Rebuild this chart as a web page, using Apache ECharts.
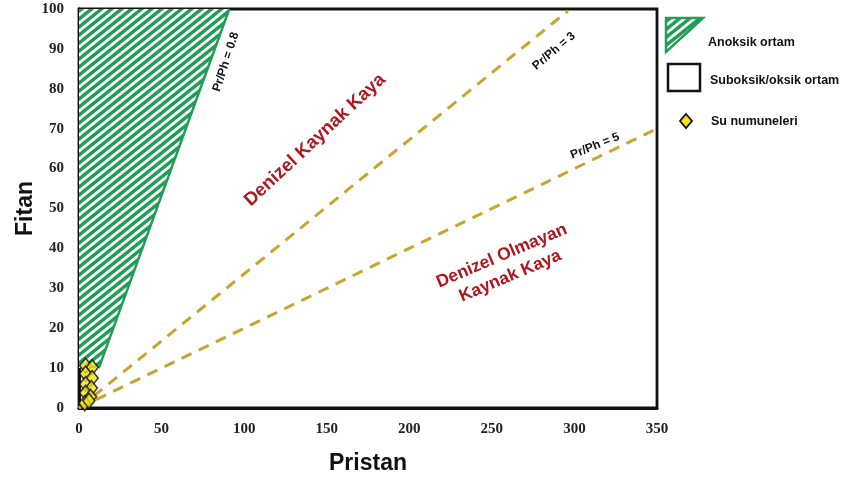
<!DOCTYPE html>
<html>
<head>
<meta charset="utf-8">
<script src="https://cdn.jsdelivr.net/npm/echarts@6/dist/echarts.min.js"></script>
<style>
  html, body { margin: 0; padding: 0; background: #fff; }
  #chart { width: 843px; height: 482px; }
</style>
</head>
<body>
<div id="chart"></div>
<script>
// Axis ranges and tick settings
const xTicks = { min: 0, max: 350, interval: 50 };
const yTicks = { min: 0, max: 100, interval: 10 };

// Anoxic field (Pr/Ph < 0.8) outline: Pristan, Fitan
const anoxicX = [0, 0, 91, 12];
const anoxicY = [10, 100, 100, 10];

// Pr/Ph reference lines
const ratio3X = [0, 296];
const ratio3Y = [0, 99.5];
const ratio5X = [0, 350];
const ratio5Y = [0, 70];

// Water samples
const sampleX = [4.0, 8.0, 4.0, 8.0, 4.0, 7.5, 4.0, 7.0, 3.5, 6.0];
const sampleY = [10.6, 10.2, 8.6, 7.5, 6.0, 5.0, 3.8, 2.8, 1.2, 1.8];

const GREEN = '#1f9e55';
const GOLD = '#c9a530';
const RED = '#b0161e';

// Seamless diagonal stripe tile, stripes rising to the right
function hatch() {
  const W = 10, H = 8, greenShare = 0.55, ss = 4;
  const c = document.createElement('canvas');
  c.width = W; c.height = H;
  const g = c.getContext('2d');
  const img = g.createImageData(W, H);
  const gr = [0x1f, 0x9e, 0x55];
  for (let y = 0; y < H; y++) {
    for (let x = 0; x < W; x++) {
      let cov = 0;
      for (let sy = 0; sy < ss; sy++) {
        for (let sx = 0; sx < ss; sx++) {
          const px = x + (sx + 0.5) / ss, py = y + (sy + 0.5) / ss;
          let p = ((H * px + W * py) % (W * H)) / (W * H);
          if (p < greenShare) cov++;
        }
      }
      const a = cov / (ss * ss);
      const k = (y * W + x) * 4;
      img.data[k] = Math.round(255 + (gr[0] - 255) * a);
      img.data[k + 1] = Math.round(255 + (gr[1] - 255) * a);
      img.data[k + 2] = Math.round(255 + (gr[2] - 255) * a);
      img.data[k + 3] = 255;
    }
  }
  g.putImageData(img, 0, 0);
  return c;
}
const hatchCanvas = hatch();
const hatchFill = { type: 'pattern', image: hatchCanvas, repeat: 'repeat' };

const zip = (a, b) => a.map((v, i) => [v, b[i]]);

const chart = echarts.init(document.getElementById('chart'), null, { renderer: 'canvas' });

const serifLabel = {
  fontFamily: 'Liberation Serif, DejaVu Serif, serif',
  fontWeight: 'bold',
  fontSize: 15,
  color: '#222'
};
const SANS = 'Liberation Sans, Arial, sans-serif';

chart.setOption({
  animation: false,
  backgroundColor: '#ffffff',
  grid: {
    left: 79, right: 186, top: 9, bottom: 74,
    outerBoundsMode: 'none',
    show: true, borderColor: '#111', borderWidth: 2.8, backgroundColor: 'transparent'
  },
  xAxis: {
    type: 'value', min: xTicks.min, max: xTicks.max, interval: xTicks.interval,
    name: 'Pristan', nameLocation: 'middle', nameGap: 44,
    nameTextStyle: { fontFamily: SANS, fontWeight: 'bold', fontSize: 23, color: '#111' },
    axisLine: { show: true, lineStyle: { color: '#111', width: 2.8 } },
    axisTick: { show: false },
    splitLine: { show: false },
    axisLabel: Object.assign({ margin: 14 }, serifLabel)
  },
  yAxis: {
    type: 'value', min: yTicks.min, max: yTicks.max, interval: yTicks.interval,
    name: 'Fitan', nameLocation: 'middle', nameGap: 42, nameRotate: 90,
    nameMoveOverlap: false,
    nameTextStyle: { fontFamily: SANS, fontWeight: 'bold', fontSize: 23, color: '#111' },
    axisLine: { show: true, lineStyle: { color: '#111', width: 2.8 } },
    axisTick: { show: false },
    splitLine: { show: false },
    axisLabel: Object.assign({ margin: 15 }, serifLabel)
  },
  series: [
    {
      type: 'custom',
      z: 1,
      silent: true,
      data: [[0, 0]],
      renderItem: function (params, api) {
        const pts = anoxicX.map((x, i) => api.coord([x, anoxicY[i]]));
        return {
          type: 'polygon',
          shape: { points: pts },
          style: { fill: hatchFill, stroke: null }
        };
      }
    },
    {
      type: 'line', z: 2, silent: true, symbol: 'none',
      data: [[anoxicX[3], anoxicY[3]], [anoxicX[2], anoxicY[2]]],
      lineStyle: { color: GREEN, width: 2.5 }
    },
    {
      type: 'line', z: 2, silent: true, symbol: 'none',
      data: zip(ratio3X, ratio3Y),
      lineStyle: { color: GOLD, width: 3, type: [11, 8] }
    },
    {
      type: 'line', z: 2, silent: true, symbol: 'none',
      data: zip(ratio5X, ratio5Y),
      lineStyle: { color: GOLD, width: 3, type: [11, 8] }
    },
    {
      type: 'scatter', z: 3, silent: true,
      symbol: 'diamond', symbolSize: [12, 15],
      data: zip(sampleX, sampleY),
      itemStyle: { color: '#f3e31c', borderColor: '#111', borderWidth: 1.6 }
    }
  ],
  graphic: [
    // rotated annotations
    {
      type: 'text', x: 226, y: 62, rotation: 72 * Math.PI / 180, z: 10,
      style: { text: 'Pr/Ph = 0.8', fontFamily: SANS, fontWeight: 'bold', fontSize: 12, fill: '#111', align: 'center', verticalAlign: 'middle' }
    },
    {
      type: 'text', x: 554, y: 51, rotation: 40 * Math.PI / 180, z: 10,
      style: { text: 'Pr/Ph = 3', fontFamily: SANS, fontWeight: 'bold', fontSize: 12, fill: '#111', align: 'center', verticalAlign: 'middle' }
    },
    {
      type: 'text', x: 595, y: 146, rotation: 22 * Math.PI / 180, z: 10,
      style: { text: 'Pr/Ph = 5', fontFamily: SANS, fontWeight: 'bold', fontSize: 12, fill: '#111', align: 'center', verticalAlign: 'middle' }
    },
    {
      type: 'text', x: 315, y: 140, rotation: 43 * Math.PI / 180, z: 10,
      style: { text: 'Denizel Kaynak Kaya', fontFamily: SANS, fontWeight: 'bold', fontSize: 18.5, fill: RED, align: 'center', verticalAlign: 'middle' }
    },
    {
      type: 'text', x: 506, y: 266, rotation: 23 * Math.PI / 180, z: 10,
      style: { text: 'Denizel Olmayan\nKaynak Kaya', fontFamily: SANS, fontWeight: 'bold', fontSize: 17.5, lineHeight: 22, fill: RED, align: 'center', verticalAlign: 'middle' }
    },
    // legend
    {
      type: 'polygon', z: 10,
      shape: { points: [[666, 18], [703, 18], [666, 52]] },
      style: { fill: hatchFill, stroke: GREEN, lineWidth: 2.5 }
    },
    {
      type: 'text', x: 708, y: 43, z: 10,
      style: { text: 'Anoksik ortam', fontFamily: SANS, fontWeight: 'bold', fontSize: 12.5, fill: '#111', verticalAlign: 'middle' }
    },
    {
      type: 'rect', z: 10,
      shape: { x: 668, y: 64, width: 32, height: 27 },
      style: { fill: '#fff', stroke: '#111', lineWidth: 2.5 }
    },
    {
      type: 'text', x: 710, y: 81, z: 10,
      style: { text: 'Suboksik/oksik ortam', fontFamily: SANS, fontWeight: 'bold', fontSize: 12.5, fill: '#111', verticalAlign: 'middle' }
    },
    {
      type: 'polygon', z: 10,
      shape: { points: [[686, 114], [692, 121], [686, 128], [680, 121]] },
      style: { fill: '#f3e31c', stroke: '#111', lineWidth: 1.8 }
    },
    {
      type: 'text', x: 711, y: 122, z: 10,
      style: { text: 'Su numuneleri', fontFamily: SANS, fontWeight: 'bold', fontSize: 12.5, fill: '#111', verticalAlign: 'middle' }
    }
  ]
});
</script>
</body>
</html>
